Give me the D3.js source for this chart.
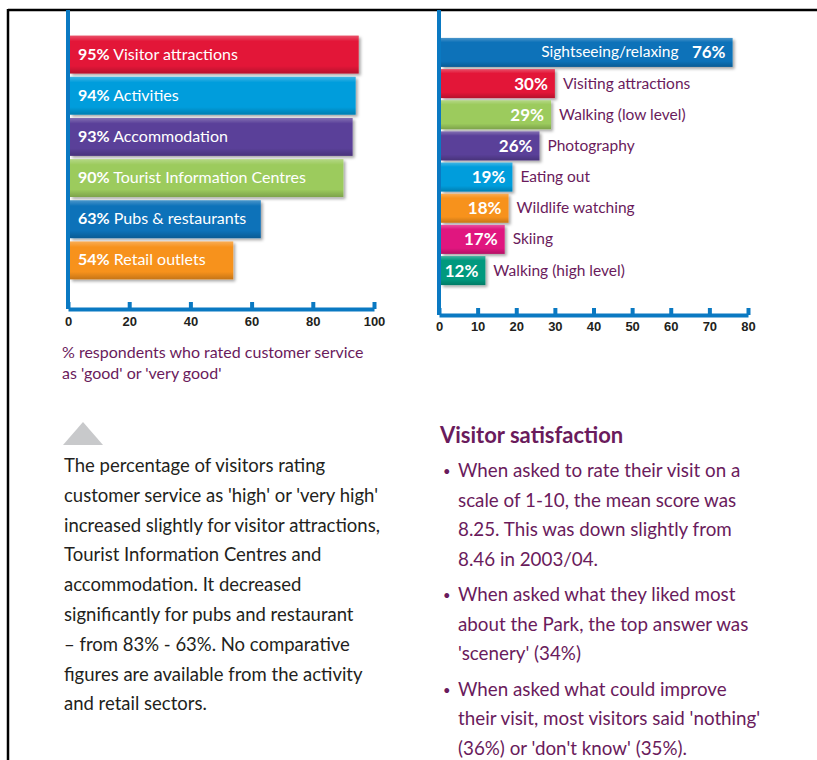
<!DOCTYPE html>
<html lang="en">
<head>
  <meta charset="UTF-8">
  <title>Visitor satisfaction</title>
  <style>
    body { margin: 0; background: #fff; }
    svg { display: block; font-family: Lato, "Open Sans", sans-serif; }
    .axis path, .axis line { fill: none; stroke: #0a79c2; stroke-width: 4; }
    .axis text { font-size: 13px; font-weight: 700; fill: #231f20; }
  </style>
</head>
<body>
  <script src="https://cdn.jsdelivr.net/npm/d3@7"></script>
  <script>
    // left chart: customer service ratings
    var serviceCats = ["Visitor attractions", "Activities", "Accommodation", "Tourist Information Centres", "Pubs & restaurants", "Retail outlets"];
    var serviceVals = [95, 94, 93, 90, 63, 54];
    var serviceCols = ["#e31937", "#009ddc", "#5a3f99", "#9ccb5d", "#0a72b9", "#f7921e"];
    var serviceTicks = [0, 20, 40, 60, 80, 100];

    // right chart: activities
    var activityCats = ["Sightseeing/relaxing", "Visiting attractions", "Walking (low level)", "Photography", "Eating out", "Wildlife watching", "Skiing", "Walking (high level)"];
    var activityVals = [76, 30, 29, 26, 19, 18, 17, 12];
    var activityCols = ["#0a72b9", "#e31937", "#9ccb5d", "#5a3f99", "#009ddc", "#f7921e", "#e0177f", "#00997e"];
    var activityTicks = [0, 10, 20, 30, 40, 50, 60, 70, 80];

    var captionLines = ["% respondents who rated customer service", "as 'good' or 'very good'"];
    var noteLines = [
      "The percentage of visitors rating",
      "customer service as 'high' or 'very high'",
      "increased slightly for visitor attractions,",
      "Tourist Information Centres and",
      "accommodation. It decreased",
      "significantly for pubs and restaurant",
      "\u2013 from 83% - 63%. No comparative",
      "figures are available from the activity",
      "and retail sectors."
    ];
    var satTitle = "Visitor satisfaction";
    var satBullets = [
      ["When asked to rate their visit on a", "scale of 1-10, the mean score was", "8.25. This was down slightly from", "8.46 in 2003/04."],
      ["When asked what they liked most", "about the Park, the top answer was", "'scenery' (34%)"],
      ["When asked what could improve", "their visit, most visitors said 'nothing'", "(36%) or 'don't know' (35%)."]
    ];

    var width = 817, height = 760;
    var purple = "#6a1b5c";
    var svg = d3.select("body").append("svg").attr("width", width).attr("height", height);

    // shadow under bars
    var defs = svg.append("defs");
    var f = defs.append("filter").attr("id", "shadow").attr("x", "-5%").attr("y", "-20%").attr("width", "115%").attr("height", "160%");
    f.append("feDropShadow").attr("dx", 2).attr("dy", 2).attr("stdDeviation", 1.5).attr("flood-color", "#000").attr("flood-opacity", 0.35);
    var g = defs.append("linearGradient").attr("id", "shine").attr("x1", 0).attr("y1", 0).attr("x2", 0).attr("y2", 1);
    g.append("stop").attr("offset", "0").attr("stop-color", "#fff").attr("stop-opacity", 0.25);
    g.append("stop").attr("offset", "0.15").attr("stop-color", "#fff").attr("stop-opacity", 0);
    g.append("stop").attr("offset", "0.8").attr("stop-color", "#000").attr("stop-opacity", 0);
    g.append("stop").attr("offset", "1").attr("stop-color", "#000").attr("stop-opacity", 0.2);

    // page frame
    svg.append("line").attr("x1", 8).attr("y1", 10).attr("x2", width).attr("y2", 10).attr("stroke", "#000").attr("stroke-width", 2.5);
    svg.append("line").attr("x1", 8).attr("y1", 9).attr("x2", 8).attr("y2", height).attr("stroke", "#000").attr("stroke-width", 2.5);

    // ---------- left chart ----------
    var x1 = d3.scaleLinear().domain([0, 100]).range([68, 374]);
    var y1 = d3.scaleBand().domain(serviceCats).range([34, 281]).paddingInner(0.08).paddingOuter(0.04);
    var axisY1 = 309;

    var left = svg.append("g");
    left.selectAll("rect").data(serviceCats).enter().append("rect")
      .attr("x", x1(0) + 2).attr("y", function (d) { return y1(d); })
      .attr("width", function (d, i) { return x1(serviceVals[i]) - x1(0) - 2; })
      .attr("height", y1.bandwidth())
      .attr("fill", function (d, i) { return serviceCols[i]; })
      .attr("filter", "url(#shadow)");
    left.selectAll("rect.shine").data(serviceCats).enter().append("rect").attr("class", "shine")
      .attr("x", x1(0) + 2).attr("y", function (d) { return y1(d); })
      .attr("width", function (d, i) { return x1(serviceVals[i]) - x1(0) - 2; })
      .attr("height", y1.bandwidth()).attr("fill", "url(#shine)");

    var lt = left.selectAll("text.lbl").data(serviceCats).enter().append("text").attr("class", "lbl")
      .attr("x", x1(0) + 10).attr("y", function (d) { return y1(d) + y1.bandwidth() / 2 + 5; })
      .attr("fill", "#fff").style("font-size", "16px");
    lt.append("tspan").style("font-weight", 700).text(function (d, i) { return serviceVals[i] + "%"; });
    lt.append("tspan").text(function (d) { return " " + d; });

    left.append("line").attr("x1", x1(0)).attr("x2", x1(0)).attr("y1", 10).attr("y2", axisY1)
      .attr("stroke", "#0a79c2").attr("stroke-width", 4);
    left.append("g").attr("class", "axis").attr("transform", "translate(0," + axisY1 + ")")
      .call(d3.axisBottom(x1).tickValues(serviceTicks).tickSize(-7).tickSizeOuter(0).tickPadding(8));

    svg.append("g").selectAll("text").data(captionLines).enter().append("text")
      .attr("x", 62).attr("y", function (d, i) { return 358 + i * 21; })
      .attr("fill", purple).style("font-size", "16px").text(function (d) { return d; });

    // ---------- right chart ----------
    var x2 = d3.scaleLinear().domain([0, 80]).range([439, 748]);
    var y2 = d3.scaleBand().domain(activityCats).range([37, 286]).paddingInner(0.07).paddingOuter(0.03);
    var axisY2 = 315;

    var right = svg.append("g");
    right.selectAll("rect").data(activityCats).enter().append("rect")
      .attr("x", x2(0) + 2).attr("y", function (d) { return y2(d); })
      .attr("width", function (d, i) { return x2(activityVals[i]) - x2(0) - 2; })
      .attr("height", y2.bandwidth())
      .attr("fill", function (d, i) { return activityCols[i]; })
      .attr("filter", "url(#shadow)");
    right.selectAll("rect.shine").data(activityCats).enter().append("rect").attr("class", "shine")
      .attr("x", x2(0) + 2).attr("y", function (d) { return y2(d); })
      .attr("width", function (d, i) { return x2(activityVals[i]) - x2(0) - 2; })
      .attr("height", y2.bandwidth()).attr("fill", "url(#shine)");

    // value inside bar end
    right.selectAll("text.val").data(activityCats).enter().append("text").attr("class", "val")
      .attr("x", function (d, i) { return x2(activityVals[i]) - 7; })
      .attr("y", function (d) { return y2(d) + y2.bandwidth() / 2 + 6; })
      .attr("text-anchor", "end").attr("fill", "#fff")
      .style("font-size", "17px").style("font-weight", 700)
      .text(function (d, i) { return activityVals[i] + "%"; });
    // category: inside for the long first bar, outside for the rest
    right.selectAll("text.cat").data(activityCats).enter().append("text").attr("class", "cat")
      .attr("x", function (d, i) { return i === 0 ? x2(activityVals[i]) - 54 : x2(activityVals[i]) + 8; })
      .attr("y", function (d) { return y2(d) + y2.bandwidth() / 2 + 5; })
      .attr("text-anchor", function (d, i) { return i === 0 ? "end" : "start"; })
      .attr("fill", function (d, i) { return i === 0 ? "#fff" : purple; })
      .style("font-size", "15.5px")
      .text(function (d) { return d; });

    right.append("line").attr("x1", x2(0)).attr("x2", x2(0)).attr("y1", 10).attr("y2", axisY2)
      .attr("stroke", "#0a79c2").attr("stroke-width", 4);
    right.append("g").attr("class", "axis").attr("transform", "translate(0," + axisY2 + ")")
      .call(d3.axisBottom(x2).tickValues(activityTicks).tickSize(-7).tickSizeOuter(0).tickPadding(7));

    // ---------- text blocks ----------
    svg.append("path").attr("d", "M63,445 L83,422 L103,445 Z").attr("fill", "#c8c9cb");

    svg.append("g").selectAll("text").data(noteLines).enter().append("text")
      .attr("x", 64).attr("y", function (d, i) { return 472 + i * 29.8; })
      .attr("fill", "#231f20").style("font-size", "18.5px").text(function (d) { return d; });

    svg.append("text").attr("x", 440).attr("y", 443).attr("fill", purple)
      .style("font-size", "22px").style("font-weight", 700).text(satTitle);

    var by = 477;
    var bullets = svg.append("g");
    satBullets.forEach(function (lines, bi) {
      bullets.append("text").attr("x", 443).attr("y", by - 1).attr("fill", purple).style("font-size", "13px").text("\u2022");
      lines.forEach(function (line, li) {
        bullets.append("text").attr("x", 458).attr("y", by + li * 29.5)
          .attr("fill", purple).style("font-size", "18.8px").text(line);
      });
      by += lines.length * 29.5 + 6;
    });
  </script>
</body>
</html>
